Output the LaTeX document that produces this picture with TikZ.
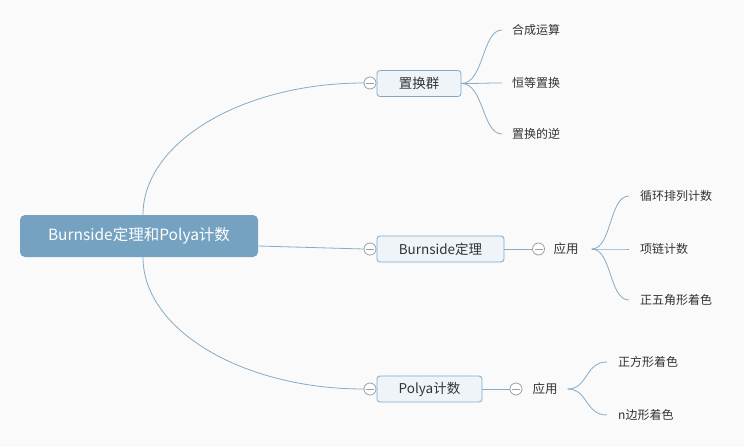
\documentclass[tikz,border=0pt]{standalone}
\usepackage{fontspec}
\setmainfont{Noto Sans CJK SC}
\definecolor{bg}{HTML}{FAFAFA}
\definecolor{rootc}{HTML}{75A2C0}
\definecolor{linec}{HTML}{86ABC6}
\definecolor{boxb}{HTML}{80A9C8}
\definecolor{boxf}{HTML}{EFF4F8}
\definecolor{foldc}{HTML}{9E9E9E}
\definecolor{txt}{HTML}{333333}
\begin{document}
\begin{tikzpicture}[x=1pt,y=-1pt,
  conn/.style={draw=linec, line width=0.8pt},
  rootbox/.style={fill=rootc, rounded corners=5pt, minimum width=238pt, minimum height=42pt, text=white, inner sep=0pt, font=\fontsize{15.5}{15}\selectfont},
  topic/.style={draw=boxb, fill=boxf, rounded corners=3pt, minimum height=26pt, inner sep=0pt, line width=0.8pt, text=txt, font=\fontsize{13.5}{14}\selectfont},
  leaf/.style={anchor=west, inner sep=0pt, text=txt, font=\fontsize{12}{12}\selectfont},
  applab/.style={inner sep=0pt, text=txt, font=\fontsize{12.5}{12}\selectfont},
  fold/.style={circle, draw=foldc, fill=white, minimum size=12pt, inner sep=0pt, line width=0.8pt,
    path picture={\draw[foldc, line width=0.8pt] ([xshift=-4pt]path picture bounding box.center) -- ([xshift=4pt]path picture bounding box.center);}}
]
\fill[bg] (0,0) rectangle (744,447);
\useasboundingbox (0,0) rectangle (744,447);

% root
\node[rootbox] (root) at (139,236) {Burnside定理和Polya计数};

% fold circles
\node[fold] (f1) at (370,83) {};
\node[fold] (f2) at (370,249) {};
\node[fold] (f3) at (370,389) {};

% root connectors
\draw[conn] ([xshift=4pt]root.north) .. controls (143,142) and (243,83) .. (f1.west);
\draw[conn] ([yshift=-10pt]root.east) -- (f2.west);
\draw[conn] ([xshift=4pt]root.south) .. controls (143,330) and (243,389) .. (f3.west);

% topics
\node[topic, minimum width=84pt] (t1) at (419,83.5) {置换群};
\node[topic, minimum width=127pt] (t2) at (440.5,249) {Burnside定理};
\node[topic, minimum width=105pt] (t3) at (429.5,389) {Polya计数};

% leaves of t1
\node[leaf] (l11) at (512,30) {合成运算};
\node[leaf] (l12) at (512,83) {恒等置换};
\node[leaf] (l13) at (512,134) {置换的逆};
\foreach \n/\y in {l11/30,l12/83,l13/134}{
  \draw[conn] (t1.east) .. controls (484,83.5) and (482,\y) .. ([xshift=-10pt]\n.west);
}

% t2 -> 应用
\node[fold] (f4) at (538.5,249) {};
\draw[conn] (t2.east) -- (f4.west);
\node[applab] (a1) at (566,249) {应用};
\node[leaf] (l21) at (640,196) {循环排列计数};
\node[leaf] (l22) at (640,249) {项链计数};
\node[leaf] (l23) at (640,300) {正五角形着色};
\foreach \n/\y in {l21/196,l22/249,l23/300}{
  \draw[conn] ([xshift=13pt]a1.east) .. controls (612,249) and (609,\y) .. ([xshift=-11pt]\n.west);
}

% t3 -> 应用
\node[fold] (f5) at (516,389) {};
\draw[conn] (t3.east) -- (f5.west);
\node[applab] (a2) at (545,389) {应用};
\node[leaf] (l31) at (618,362) {正方形着色};
\node[leaf] (l32) at (618,415) {n边形着色};
\foreach \n/\y in {l31/362,l32/415}{
  \draw[conn] ([xshift=10pt]a2.east) .. controls (588,389) and (585,\y) .. ([xshift=-11pt]\n.west);
}
\end{tikzpicture}
\end{document}
